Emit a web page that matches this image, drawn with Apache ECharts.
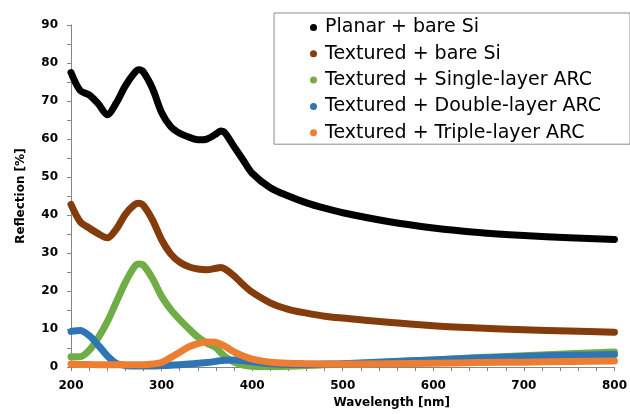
<!DOCTYPE html>
<html>
<head>
<meta charset="utf-8">
<script src="https://cdn.jsdelivr.net/npm/echarts@6/dist/echarts.min.js"></script>
<style>
  html, body { margin: 0; padding: 0; background: #fff; }
  #main { width: 630px; height: 414px; }
</style>
</head>
<body>
<div id="main"></div>
<script>
// wavelength [nm]
var wavelength = [200, 210, 220, 230, 240, 250, 260, 270, 275, 280, 290, 300, 310, 320, 330, 340, 350,
    360, 365, 370, 380, 390, 400, 420, 440, 460, 480, 500, 550, 600, 650, 700, 750, 800];

// reflection [%]
var planarBare = [77.5, 72.8, 71.6, 69.3, 66.4, 69.5, 74.0, 77.4, 78.2, 77.6, 73.3, 67.0, 63.3, 61.5, 60.5, 59.8, 60.0,
    61.3, 62.1, 61.6, 58.0, 54.5, 51.0, 47.2, 45.0, 43.2, 41.8, 40.6, 38.3, 36.6, 35.4, 34.6, 34.0, 33.6];
var texturedBare = [42.8, 38.3, 36.6, 35.1, 34.0, 36.3, 40.2, 42.7, 43.1, 42.5, 38.7, 33.5, 29.8, 27.6, 26.4, 25.8, 25.6,
    26.0, 26.2, 25.8, 24.0, 21.7, 19.7, 16.9, 15.2, 14.2, 13.4, 12.9, 11.8, 10.9, 10.3, 9.8, 9.5, 9.2];
var singleArc = [2.7, 2.7, 4.4, 7.7, 11.9, 17.1, 22.3, 26.4, 27.1, 26.8, 23.3, 18.6, 15.2, 12.5, 10.1, 7.9, 6.3,
    5.1, 3.9, 2.8, 1.3, 0.5, 0.2, 0.1, 0.2, 0.4, 0.6, 0.8, 1.3, 1.9, 2.5, 3.0, 3.5, 4.0];
var doubleArc = [9.4, 9.6, 8.3, 5.8, 3.0, 1.0, 0.4, 0.3, 0.3, 0.3, 0.3, 0.4, 0.5, 0.6, 0.8, 1.0, 1.2,
    1.5, 1.7, 1.8, 1.9, 1.7, 1.4, 0.9, 0.7, 0.7, 0.8, 0.9, 1.4, 1.9, 2.4, 2.8, 3.1, 3.3];
var tripleArc = [0.8, 0.7, 0.7, 0.6, 0.6, 0.6, 0.6, 0.6, 0.6, 0.6, 0.8, 1.2, 2.5, 3.9, 5.3, 6.2, 6.6,
    6.5, 6.1, 5.5, 4.0, 2.9, 2.1, 1.3, 1.0, 0.9, 0.8, 0.8, 0.9, 1.0, 1.2, 1.3, 1.5, 1.6];

var seriesNames = ['Planar + bare Si', 'Textured + bare Si', 'Textured + Single-layer ARC',
    'Textured + Double-layer ARC', 'Textured + Triple-layer ARC'];
var seriesColors = ['#000000', '#843C0C', '#70AD47', '#2E75B6', '#ED7D31'];
var seriesValues = [planarBare, texturedBare, singleArc, doubleArc, tripleArc];

function pairs(values) {
    return wavelength.map(function (w, i) { return [w, values[i]]; });
}

var axisColor = '#868686';
var labelFont = {
    color: '#000',
    fontFamily: 'DejaVu Sans',
    fontWeight: 'bold',
    fontSize: 12
};

var myChart = echarts.init(document.getElementById('main'));

var option = {
    animation: false,
    grid: {
        left: 71,
        right: 12,
        top: 25,
        bottom: 41
    },
    legend: {
        orient: 'vertical',
        left: 274,
        top: 13,
        data: seriesNames,
        icon: 'circle',
        itemWidth: 7,
        itemHeight: 7,
        itemGap: 7.3,
        padding: [5, 29, 2, 36],
        borderColor: '#8c8c8c',
        borderWidth: 1,
        backgroundColor: '#fff',
        textStyle: {
            color: '#000',
            fontFamily: 'DejaVu Sans',
            fontSize: 19,
            padding: [0, 0, 0, 3]
        }
    },
    xAxis: {
        type: 'value',
        min: 200,
        max: 800,
        interval: 100,
        name: 'Wavelength [nm]',
        nameLocation: 'middle',
        nameGap: 27,
        nameTextStyle: {
            color: '#000',
            fontFamily: 'DejaVu Sans',
            fontWeight: 'bold',
            fontSize: 12,
            padding: [0, 0, 0, 98]
        },
        axisLine: { lineStyle: { color: axisColor, width: 1 } },
        axisTick: { show: true, inside: false, length: 4, lineStyle: { color: axisColor } },
        minorTick: { show: true, splitNumber: 5, length: 4, lineStyle: { color: axisColor } },
        splitLine: { show: false },
        axisLabel: Object.assign({ margin: 13 }, labelFont)
    },
    yAxis: {
        type: 'value',
        min: 0,
        max: 90,
        interval: 10,
        name: 'Reflection [%]',
        nameLocation: 'middle',
        nameGap: 44,
        nameTextStyle: {
            color: '#000',
            fontFamily: 'DejaVu Sans',
            fontWeight: 'bold',
            fontSize: 12
        },
        axisLine: { show: true, lineStyle: { color: axisColor, width: 1 } },
        axisTick: { show: true, inside: false, length: 4, lineStyle: { color: axisColor } },
        minorTick: { show: true, splitNumber: 2, length: 4, lineStyle: { color: axisColor } },
        splitLine: { show: false },
        axisLabel: Object.assign({ margin: 13 }, labelFont)
    },
    series: seriesNames.map(function (name, i) {
        return {
            name: name,
            type: 'line',
            data: pairs(seriesValues[i]),
            smooth: 0.3,
            showSymbol: false,
            color: seriesColors[i],
            lineStyle: { width: 7, color: seriesColors[i], cap: 'round', join: 'round' }
        };
    })
};

myChart.setOption(option);
</script>
</body>
</html>
